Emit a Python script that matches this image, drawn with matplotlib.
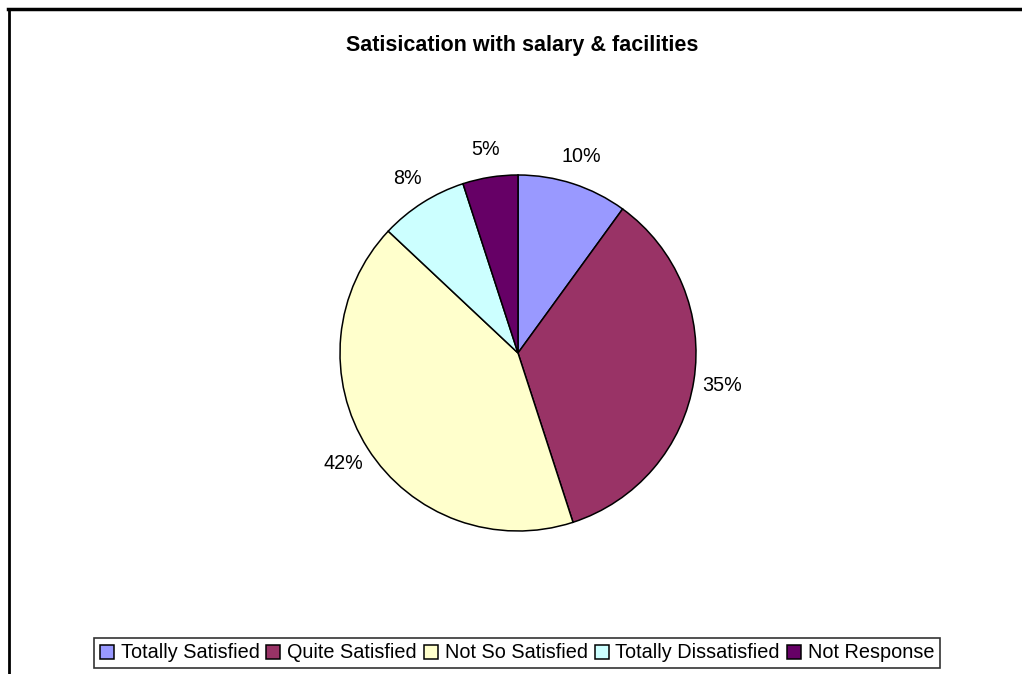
"""Koláčový graf: spokojenost s platem a vybavením."""

import matplotlib.pyplot as plt
from matplotlib.lines import Line2D

# data
categories = ["Totally Satisfied", "Quite Satisfied", "Not So Satisfied",
              "Totally Dissatisfied", "Not Response"]
values = [10, 35, 42, 8, 5]
colors = ["#9999FF", "#993366", "#FFFFCC", "#CCFFFF", "#660066"]

plt.rcParams["font.family"] = ["Liberation Sans", "DejaVu Sans"]

# rozměry grafu: 1022x674 pixelů
fig = plt.figure(figsize=(10.22, 6.74), dpi=100)
ax = fig.add_axes([0, 0, 1, 1])

# koláč
wedges, _, pcts = ax.pie(values, colors=colors, startangle=90, counterclock=False,
                         center=(518, 321), radius=178, autopct="%1.0f%%",
                         pctdistance=1.16, labels=None, frame=True,
                         wedgeprops=dict(edgecolor="black", linewidth=1.1))
for t in pcts:
    t.set_fontsize(14.2)
    t.set_color("black")

# rozsahy os = pixely obrázku (pie je jinak přepíše)
ax.set_xlim(0, 1022)
ax.set_ylim(0, 674)
ax.set_aspect("equal")
ax.axis("off")

# titulek
fig.text(522 / 1022, 1 - 45 / 674, "Satisication with salary & facilities",
         ha="center", va="center", fontsize=15.5, fontweight="bold")

# legenda
leg = fig.legend(wedges, categories, loc="center", ncol=5,
                 bbox_to_anchor=(517 / 1022, 1 - 653 / 674),
                 fontsize=14.3, frameon=True, fancybox=False, edgecolor="black",
                 handlelength=0.7, handleheight=0.7, handletextpad=0.35,
                 columnspacing=0.35, borderpad=0.3, borderaxespad=0)
leg.get_frame().set_linewidth(1.2)

# rámeček kolem grafu (levá a horní hrana)
fig.add_artist(Line2D([9 / 1022, 9 / 1022], [0, 1 - 9 / 674], color="black",
                      linewidth=2, transform=fig.transFigure))
fig.add_artist(Line2D([8 / 1022, 1], [1 - 9 / 674, 1 - 9 / 674], color="black",
                      linewidth=2.5, transform=fig.transFigure))

plt.savefig("out.png", dpi=100)
